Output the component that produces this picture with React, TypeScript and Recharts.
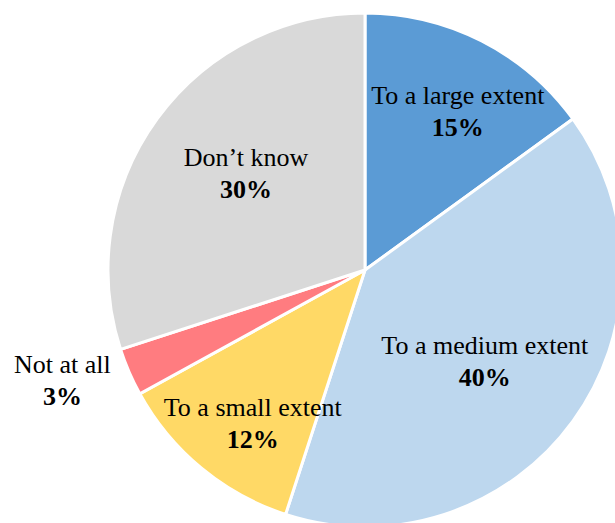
import React from "react";
import { PieChart, Pie, Cell } from "recharts";

// Survey responses, clockwise from 12 o'clock
const categories = [
  "To a large extent",
  "To a medium extent",
  "To a small extent",
  "Not at all",
  "Don\u2019t know",
];
const shares = [15, 40, 12, 3, 30];

const colors = ["#5B9BD5", "#BDD7EE", "#FFD966", "#FF7C80", "#D9D9D9"];

// Label placement per slice: distance from centre and angular nudge (degrees)
const labelRadius = [184, 151, 190, 322, 153];
const labelNudge = [-3.3, -1.5, 3.4, -3.4, -2.9];

const data = categories.map((name, i) => ({ name, value: shares[i] }));

const RAD = Math.PI / 180;
const FONT = "'Liberation Serif', 'Times New Roman', serif";

const renderLabel = (props: any) => {
  const { cx, cy, midAngle, index, name, value } = props;
  const a = (midAngle + labelNudge[index]) * RAD;
  const r = labelRadius[index];
  const x = cx + r * Math.cos(a);
  const y = cy - r * Math.sin(a);
  return (
    <g>
      <text
        x={x}
        y={y - 16}
        textAnchor="middle"
        dominantBaseline="central"
        fontFamily={FONT}
        fontSize={26}
        fill="#000"
      >
        {name}
      </text>
      <text
        x={x}
        y={y + 16}
        textAnchor="middle"
        dominantBaseline="central"
        fontFamily={FONT}
        fontSize={26}
        fontWeight="bold"
        fill="#000"
      >
        {`${value}%`}
      </text>
    </g>
  );
};

export default function App() {
  return (
    <div style={{ position: "absolute", left: 0, top: 0, width: 615, height: 523, background: "#fff" }}>
      <PieChart width={615} height={523} margin={{ top: 0, right: 0, bottom: 0, left: 0 }}>
        <Pie
          data={data}
          dataKey="value"
          nameKey="name"
          cx={365}
          cy={270}
          outerRadius={257}
          startAngle={90}
          endAngle={-270}
          stroke="#fff"
          strokeWidth={3}
          label={renderLabel}
          labelLine={false}
          isAnimationActive={false}
        >
          {data.map((d, i) => (
            <Cell key={d.name} fill={colors[i]} />
          ))}
        </Pie>
      </PieChart>
    </div>
  );
}
